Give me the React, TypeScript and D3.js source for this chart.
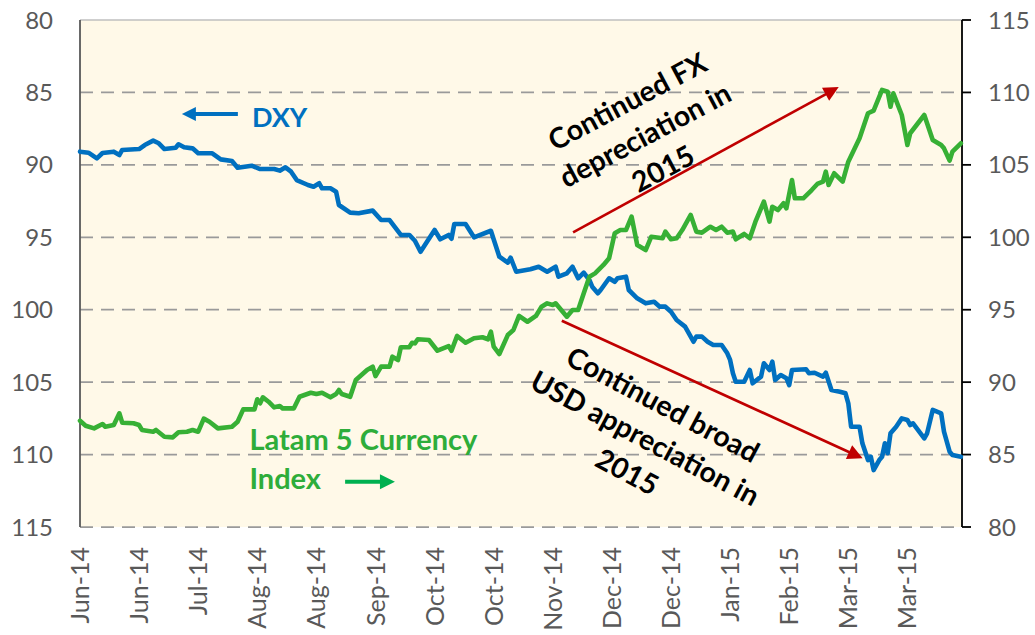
import React from "react";
import * as d3 from "d3";

// ---- Data (day offsets from 2014-06-02) ----
const startDate = "2014-06-02";
const endDay = 313.4;

const tickDates = [
  "2014-06-02", "2014-06-23", "2014-07-14", "2014-08-04", "2014-08-25",
  "2014-09-15", "2014-10-06", "2014-10-27", "2014-11-17", "2014-12-08",
  "2014-12-29", "2015-01-19", "2015-02-09", "2015-03-02", "2015-03-23",
];

const leftTicks = [80, 85, 90, 95, 100, 105, 110, 115];
const rightTicks = [115, 110, 105, 100, 95, 90, 85, 80];

const dxyDays = [
  0, 3, 6, 8, 12, 14, 15, 21, 23, 26, 28, 30, 34, 35, 37, 40, 42, 47, 50, 54,
  56, 61, 64, 69, 71, 73, 75, 77, 81, 83, 85, 86, 89, 91, 92, 96, 99, 104, 107, 110,
  114, 117, 119, 121, 126, 128, 131, 132, 133, 137, 140, 146, 149, 152, 153, 155, 160, 163, 166, 169,
  170, 173, 175, 177, 179, 181, 182, 184, 185, 188, 190, 191, 194, 195, 198, 201, 204, 206, 208, 210,
  212, 215, 218, 219, 221, 223, 225, 228, 230, 231, 232, 233, 236, 238, 239, 242, 243, 245, 246, 247,
  249, 251, 252, 253, 258, 259, 261, 264, 265, 267, 270, 272, 273, 274, 277, 278, 280, 281, 282, 284,
  285, 286, 287, 288, 290, 292, 294, 295, 296, 300, 301, 303, 306, 307, 309, 310, 313,
];
const dxyValues = [
  89.09, 89.16, 89.55, 89.18, 89.09, 89.32, 88.97, 88.91, 88.63, 88.33, 88.51, 88.91, 88.82, 88.58, 88.79, 88.86, 89.2, 89.2, 89.62, 89.73,
  90.2, 90.06, 90.29, 90.29, 90.4, 90.17, 90.47, 91.05, 91.39, 91.51, 91.27, 91.62, 91.62, 91.85, 92.77, 93.3, 93.34, 93.16, 93.81, 93.81,
  94.84, 94.84, 95.24, 96.0, 94.5, 95.14, 94.84, 95.1, 94.08, 94.08, 95.0, 94.55, 96.34, 96.75, 96.41, 97.38, 97.21, 97.03, 97.38, 97.03,
  97.72, 97.49, 97.03, 97.83, 97.44, 97.95, 98.41, 98.87, 98.64, 97.83, 98.07, 97.83, 97.72, 98.64, 99.21, 99.56, 99.45, 99.79, 99.79, 100.14,
  100.71, 101.17, 102.21, 101.86, 101.86, 102.21, 102.44, 102.44, 103.01, 103.47, 104.39, 104.97, 104.97, 104.16, 105.08, 104.62, 103.7, 104.16, 103.59, 104.85,
  104.51, 104.73, 105.2, 104.16, 104.11, 104.39, 104.35, 104.62, 104.35, 105.54, 105.66, 105.77, 106.46, 108.08, 108.08, 109.22, 110.38, 110.15, 111.07, 110.38,
  110.15, 109.22, 109.91, 108.53, 108.08, 107.5, 107.61, 107.96, 107.84, 108.88, 108.53, 106.92, 107.15, 108.42, 109.8, 110.03, 110.15,
];

const latamDays = [
  0, 2, 5, 8, 9, 12, 14, 15, 19, 21, 22, 26, 27, 30, 33, 35, 38, 40, 42, 44,
  46, 49, 54, 56, 58, 62, 63, 64, 65, 67, 69, 71, 72, 76, 78, 82, 84, 86, 89, 91,
  92, 93, 96, 98, 102, 104, 105, 107, 110, 111, 113, 114, 117, 118, 119, 120, 124, 127, 131, 132,
  134, 137, 140, 143, 145, 146, 147, 149, 152, 154, 156, 159, 162, 164, 166, 168, 169, 171, 173, 175,
  177, 179, 181, 183, 186, 188, 190, 192, 194, 196, 198, 201, 203, 207, 208, 210, 212, 214, 217, 219,
  221, 224, 226, 228, 230, 232, 233, 236, 238, 240, 243, 245, 246, 248, 250, 251, 253, 254, 257, 260,
  262, 264, 265, 266, 268, 271, 273, 277, 280, 282, 285, 287, 288, 289, 292, 294, 295, 300, 303, 306,
  307, 309, 310, 313,
];
const latamValues = [
  87.34, 86.99, 86.81, 87.11, 86.92, 87.04, 87.85, 87.2, 87.16, 87.04, 86.7, 86.58, 86.7, 86.23, 86.19, 86.54, 86.58, 86.7, 86.58, 87.48,
  87.27, 86.81, 86.92, 87.27, 88.12, 88.12, 88.82, 88.54, 88.95, 88.65, 88.26, 88.35, 88.19, 88.19, 88.99, 89.27, 89.18, 89.27, 88.95, 89.18,
  89.46, 89.18, 88.99, 90.15, 90.84, 91.07, 90.42, 91.07, 91.07, 91.76, 91.53, 92.41, 92.41, 92.72, 92.68, 92.96, 92.91, 92.17, 92.49, 92.17,
  93.19, 92.72, 93.03, 93.1, 92.96, 93.48, 92.45, 91.94, 93.25, 93.6, 94.57, 94.17, 94.57, 95.21, 95.44, 95.33, 95.44, 94.98, 94.52, 94.98,
  94.98, 96.13, 97.28, 97.51, 98.09, 98.55, 100.28, 100.5, 100.5, 101.42, 99.47, 99.12, 100.04, 99.93, 100.39, 99.86, 99.93, 100.5, 101.54, 100.39,
  100.32, 100.73, 100.5, 100.73, 100.32, 100.39, 99.86, 100.23, 99.93, 101.08, 102.46, 101.08, 102.11, 101.88, 102.35, 102.0, 103.95, 102.69, 102.69, 103.26,
  103.68, 103.84, 104.53, 103.61, 104.42, 103.84, 105.22, 106.83, 108.56, 108.74, 110.17, 110.05, 109.01, 109.94, 108.44, 106.37, 107.18, 108.44, 106.72, 106.37,
  106.14, 105.29, 105.91, 106.49,
];

const dxyLabel = "DXY";
const latamLabel = ["Latam 5 Currency", "Index"];
const note1 = ["Continued FX", "depreciation in", "2015"];
const note2 = ["Continued broad", "USD appreciation in", "2015"];

// ---- Layout / style ----
const W = 1035, H = 635;
const M = { left: 80, right: 962, top: 20, bottom: 527 };
const FONT = "Lato, 'Liberation Sans', sans-serif";
const BLUE = "#0070C0";
const GREEN = "#37B035";
const GREEN_TEXT = "#2EAD3A";
const GREEN_ARROW = "#00B050";
const RED = "#C00000";
const AXIS_TEXT = "#595959";

const DAY = 864e5;
const t0 = Date.parse(startDate + "T00:00:00Z");
const toDate = (d: number) => new Date(t0 + d * DAY);

const x = d3.scaleUtc().domain([toDate(0), toDate(endDay)]).range([M.left, M.right]);
const yL = d3.scaleLinear().domain([80, 115]).range([M.top, M.bottom]);
const yR = d3.scaleLinear().domain([80, 115]).range([M.bottom, M.top]);
const fmt = d3.utcFormat("%b-%y");

const dxy = dxyDays.map((d, i) => ({ d, v: dxyValues[i] }));
const latam = latamDays.map((d, i) => ({ d, v: latamValues[i] }));

const dxyLine = d3.line<{ d: number; v: number }>().x((p) => x(toDate(p.d))).y((p) => yL(p.v));
const latamLine = d3.line<{ d: number; v: number }>().x((p) => x(toDate(p.d))).y((p) => yR(p.v));

function Arrow({ x1, y1, x2, y2, color, width, head, half }: any) {
  const dx = x2 - x1, dy = y2 - y1;
  const len = Math.hypot(dx, dy);
  const ux = dx / len, uy = dy / len;
  const bx = x2 - ux * head, by = y2 - uy * head;
  const px = -uy * half, py = ux * half;
  return (
    <g>
      <line x1={x1} y1={y1} x2={bx + ux * 1} y2={by + uy * 1} stroke={color} strokeWidth={width} />
      <polygon points={`${x2},${y2} ${bx + px},${by + py} ${bx - px},${by - py}`} fill={color} />
    </g>
  );
}

// annotation anchors in data space (day, left-axis value)
const arrowUp = { d1: 175.2, v1: 94.66, d2: 269.6, v2: 84.63 };
const arrowDown = { d1: 171.2, v1: 100.76, d2: 278.1, v2: 110.26 };
const note1Anchor = { d: 200.8, v: 87.94, angle: -28 };
const note2Anchor = { d: 200.8, v: 108.86, angle: 28 };
const dxyArrow = { d1: 56.1, d2: 36.2, v: 86.49 };
const dxyText = { d: 61.1, v: 87.37 };
const latamText = { d: 60.2, v1: 109.71, v2: 112.4 };
const latamArrow = { d1: 94.2, d2: 111.9, v: 111.87 };

export default function App() {
  const px = (d: number) => x(toDate(d));
  const grid = leftTicks.slice(1);
  return (
    <div style={{ position: "absolute", left: 0, top: 0 }}>
      <svg width={W} height={H} style={{ display: "block", background: "#ffffff" }} fontFamily={FONT}>
        <rect x={M.left} y={M.top} width={M.right - M.left} height={M.bottom - M.top} fill="#FFF9E8" />
        {grid.map((v) => (
          <line key={v} x1={M.left} x2={M.right} y1={yL(v)} y2={yL(v)} stroke="#9A9A9A" strokeWidth={1.75} strokeDasharray="13,8" />
        ))}
        <line x1={M.left} x2={M.right} y1={M.top} y2={M.top} stroke="#BFBFBF" strokeWidth={1.3} />
        <line x1={M.left} x2={M.left} y1={M.top} y2={M.bottom} stroke="#595959" strokeWidth={1.8} />
        <line x1={M.right} x2={M.right} y1={M.top} y2={M.bottom} stroke="#000" strokeWidth={1.8} />
        {rightTicks.map((v) => (
          <line key={"rt" + v} x1={M.right} x2={M.right + 9} y1={yR(v)} y2={yR(v)} stroke="#000" strokeWidth={1.8} />
        ))}
        {leftTicks.map((v) => (
          <text key={"l" + v} x={53} y={yL(v)} dy="0.36em" textAnchor="end" fontSize={24} fill={AXIS_TEXT}>{v}</text>
        ))}
        {rightTicks.map((v) => (
          <text key={"r" + v} x={988} y={yR(v)} dy="0.36em" textAnchor="start" fontSize={24} fill={AXIS_TEXT}>{v}</text>
        ))}
        {tickDates.map((s, i) => {
          const dt = new Date(s + "T00:00:00Z");
          return (
            <text key={"x" + i} transform={`translate(${x(dt)},547) rotate(-90)`} dy="0.36em" textAnchor="end" fontSize={25} fill={AXIS_TEXT}>
              {fmt(dt)}
            </text>
          );
        })}

        <path d={dxyLine(dxy) || ""} fill="none" stroke={BLUE} strokeWidth={4.6} strokeLinejoin="round" strokeLinecap="round" />
        <path d={latamLine(latam) || ""} fill="none" stroke={GREEN} strokeWidth={4.6} strokeLinejoin="round" strokeLinecap="round" />

        {/* legend-like labels */}
        <Arrow x1={px(dxyArrow.d1)} y1={yL(dxyArrow.v)} x2={px(dxyArrow.d2)} y2={yL(dxyArrow.v)} color={BLUE} width={4} head={14} half={7} />
        <text x={px(dxyText.d)} y={yL(dxyText.v)} fontSize={27} fontWeight="bold" fill={BLUE}>{dxyLabel}</text>
        <text x={px(latamText.d)} y={yL(latamText.v1)} fontSize={29} fontWeight="bold" fill={GREEN_TEXT}>{latamLabel[0]}</text>
        <text x={px(latamText.d)} y={yL(latamText.v2)} fontSize={29} fontWeight="bold" fill={GREEN_TEXT}>{latamLabel[1]}</text>
        <Arrow x1={px(latamArrow.d1)} y1={yL(latamArrow.v)} x2={px(latamArrow.d2)} y2={yL(latamArrow.v)} color={GREEN_ARROW} width={4} head={15} half={7.5} />

        {/* red arrows */}
        <Arrow x1={px(arrowUp.d1)} y1={yL(arrowUp.v1)} x2={px(arrowUp.d2)} y2={yL(arrowUp.v2)} color={RED} width={2.6} head={15} half={7.5} />
        <Arrow x1={px(arrowDown.d1)} y1={yL(arrowDown.v1)} x2={px(arrowDown.d2)} y2={yL(arrowDown.v2)} color={RED} width={2.6} head={15} half={7.5} />

        {/* rotated notes */}
        <g transform={`translate(${px(note1Anchor.d)},${yL(note1Anchor.v)}) rotate(${note1Anchor.angle})`}>
          {note1.map((t, i) => (
            <text key={i} x={0} y={(i - 1) * 38} dy="0.36em" textAnchor="middle" fontSize={28.5} fontWeight="bold" fill="#000">{t}</text>
          ))}
        </g>
        <g transform={`translate(${px(note2Anchor.d)},${yL(note2Anchor.v)}) rotate(${note2Anchor.angle})`}>
          {note2.map((t, i) => (
            <text key={i} x={0} y={(i - 1) * 38} dy="0.36em" textAnchor="middle" fontSize={28.5} fontWeight="bold" fill="#000">{t}</text>
          ))}
        </g>
      </svg>
    </div>
  );
}
